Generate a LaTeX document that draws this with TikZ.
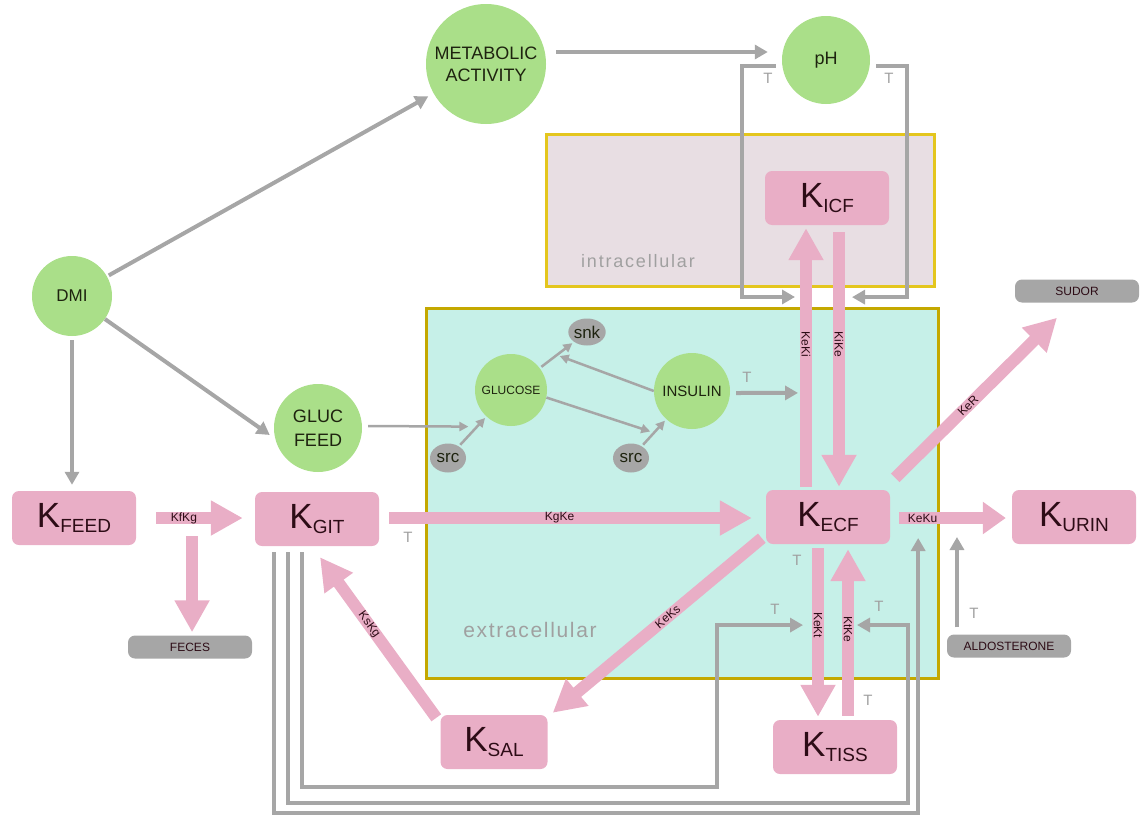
\documentclass[tikz,border=0pt]{standalone}
\usepackage{fontspec}
\setmainfont{Liberation Sans}
\usetikzlibrary{arrows.meta,calc,shapes.geometric}
\definecolor{pinkc}{RGB}{233,174,198}
\definecolor{greenc}{RGB}{170,223,137}
\definecolor{grayc}{RGB}{166,166,166}
\definecolor{tgray}{RGB}{160,160,160}
\definecolor{ktext}{RGB}{45,12,22}
\definecolor{ctext}{RGB}{30,35,15}
\definecolor{intrafill}{RGB}{232,222,227}
\definecolor{intrastroke}{RGB}{228,198,30}
\definecolor{extrafill}{RGB}{198,240,232}
\definecolor{extrastroke}{RGB}{196,168,0}
\newcommand\kname[1]{{\fontsize{35}{35}\selectfont K}\raisebox{-5pt}{\fontsize{19}{19}\selectfont #1}}
\begin{document}
\begin{tikzpicture}[x=1pt,y=-1pt,
  pbox/.style={fill=pinkc, rounded corners=7pt, minimum width=124pt, minimum height=54pt, inner sep=0pt, text=ktext},
  gbox/.style={fill=grayc, rounded corners=7pt, minimum width=124pt, minimum height=23pt, inner sep=0pt, text=ktext, font=\fontsize{12}{12}\selectfont},
  circ/.style={circle, fill=greenc, inner sep=0pt, text=ctext, align=center},
  gell/.style={ellipse, fill=grayc, minimum width=36pt, minimum height=29pt, inner sep=0pt, text=ctext, font=\fontsize{17}{17}\selectfont},
  parr/.style={draw=pinkc, line width=12pt, -{Triangle[length=32pt,width=33pt]}},
  shorthead/.style={-{Triangle[length=23pt,width=31pt]}},
  garr/.style={draw=grayc, line width=4pt, -{Triangle[length=13pt,width=14pt]}},
  gthin/.style={draw=grayc, line width=2.5pt, -{Triangle[length=9pt,width=9pt]}},
  tlab/.style={text=tgray, font=\fontsize{15}{15}\selectfont, inner sep=0pt},
  elab/.style={text=ktext, font=\fontsize{12}{12}\selectfont, inner sep=0pt}]
\useasboundingbox (0,0) rectangle (1140,819);
% compartments
\node[draw=intrastroke, fill=intrafill, line width=3pt, minimum width=388pt, minimum height=152pt, anchor=north west, inner sep=0pt] (intra) at (545,133) {};
\node[draw=extrastroke, fill=extrafill, line width=2.5pt, minimum width=512pt, minimum height=370pt, anchor=north west, inner sep=0pt] (extra) at (425,307) {};
\node[text=tgray, font=\fontsize{18}{18}\selectfont\addfontfeature{LetterSpace=10}, inner sep=0pt] (intralab) at (638,261) {intracellular};
\node[text=tgray, font=\fontsize{21}{21}\selectfont\addfontfeature{LetterSpace=8}, inner sep=0pt] (extralab) at (530,630) {extracellular};
% pink boxes
\node[pbox] (kfeed) at (74,518) {\kname{FEED}};
\node[pbox] (kgit) at (317,519) {\kname{GIT}};
\node[pbox] (kecf) at (828,517) {\kname{ECF}};
\node[pbox] (kicf) at (827,198) {\kname{ICF}};
\node[pbox] (kurin) at (1074,517) {\kname{URIN}};
\node[pbox, minimum width=107pt] (ksal) at (494,742) {\kname{SAL}};
\node[pbox] (ktiss) at (835,747) {\kname{TISS}};
% gray boxes
\node[gbox] (feces) at (190,647) {FECES};
\node[gbox] (sudor) at (1077,291) {SUDOR};
\node[gbox] (aldo) at (1009,646) {ALDOSTERONE};
% circles
\node[circ, minimum size=80pt, font=\fontsize{17}{17}\selectfont] (dmi) at (72,296) {DMI};
\node[circ, minimum size=120pt, font=\fontsize{18}{22}\selectfont] (metab) at (486,64) {METABOLIC\\ACTIVITY};
\node[circ, minimum size=88pt, font=\fontsize{18}{18}\selectfont] (ph) at (826,60) {pH};
\node[circ, minimum size=88pt, font=\fontsize{18}{24}\selectfont] (glucfeed) at (318,428) {GLUC\\FEED};
\node[circ, minimum size=72pt, font=\fontsize{12}{12}\selectfont] (glucose) at (511,390) {GLUCOSE};
\node[circ, minimum size=76pt, font=\fontsize{15}{15}\selectfont] (insulin) at (692,391) {INSULIN};
\node[gell, minimum height=27pt] (snk) at (587,332) {snk};
\node[gell] (srcA) at (448,458) {src};
\node[gell] (srcB) at (631,458) {src};
% pink flows
\draw[parr] ($(kfeed.east)+(20,0)$) -- ($(kgit.west)+(-12,-1)$) node[elab,pos=0.32]{KfKg} coordinate[pos=0.414](kfsplit);
\draw[parr] ($(kfsplit)+(0,18)$) -- ($(kfsplit |- feces.north)+(0,-3)$);
\draw[parr] ($(kgit.east)+(10,-1)$) -- ($(kecf.west)+(-14,1)$) node[elab,pos=0.47]{KgKe};
\draw[parr] ($(kecf.north)+(-22,-3)$) -- ($(kicf.south)+(-21,3)$) node[elab,pos=0.55,rotate=-90]{KeKi} coordinate[pos=0.363](kekiins) coordinate[pos=0.734](kekiph);
\draw[parr] ($(kicf.south)+(12,7)$) -- ($(kecf.north)+(11,-3)$) node[elab,pos=0.44,rotate=-90]{KiKe} coordinate[pos=0.255](kikeph);
\draw[parr] ($(kecf.north east)+(5,-12)$) -- ($(sudor.south)+(-20,15)$) node[elab,pos=0.45,rotate=45]{KeR};
\draw[parr,shorthead] ($(kecf.east)+(9,1)$) -- ($(kurin.west)+(-6,1)$) node[elab,pos=0.22]{KeKu} coordinate[pos=0.178](kekuA) coordinate[pos=0.542](kekuB);
\draw[parr] ($(kecf.south west)+(-4,-6)$) -- ($(ksal.north east)+(5,-2)$) node[elab,pos=0.45,rotate=40]{KeKs};
\draw[parr] ($(ksal.north west)+(-4,3)$) -- ($(kgit.south)+(3,11)$) node[elab,pos=0.58,rotate=-54]{KsKg};
\draw[parr] ($(kecf.south)+(-10,4)$) -- ($(ktiss.north)+(-17,-3)$) node[elab,pos=0.456,rotate=-90]{KeKt} coordinate[pos=0.456](kekt);
\draw[parr] ($(ktiss.north)+(13,-4)$) -- ($(kecf.south)+(20,5)$) node[elab,pos=0.52,rotate=-90]{KtKe} coordinate[pos=0.545](ktke);
% gray influences
\draw[garr, shorten <=2pt, shorten >=6pt] (dmi) -- (metab);
\draw[garr] (dmi.-35) -- ($(glucfeed.west)+(-4,7)$);
\draw[garr, shorten <=4pt] (dmi.south) -- ($(dmi.south |- kfeed.north)+(0,-6)$);
\draw[garr] ($(metab.east)+(10,-12)$) -- ($(ph.west)+(-14,-8)$);
\draw[gthin] ($(glucfeed.east)+(6,-2)$) -- ($(glucose.south west)+(-17,11)$);
\draw[gthin, shorten <=2pt, shorten >=2pt] (srcA) -- (glucose);
\draw[gthin, shorten <=2pt, shorten >=2pt] (glucose) -- (snk) coordinate[pos=0.5](gsnk);
\draw[gthin, shorten >=3pt] (insulin.west) -- (gsnk);
\draw[gthin, shorten <=2pt, shorten >=2pt] (srcB) -- (insulin) coordinate[pos=0.5](sins);
\draw[gthin, shorten >=4pt] (glucose.-12) -- (sins);
\draw[garr] ($(insulin.east)+(6,2)$) -- ($(kekiins)+(-8,0)$);
\draw[garr] ($(ph.west)+(-6,6)$) -| ($(kekiph)+(-64,0)$) -- ($(kekiph)+(-11,0)$);
\draw[garr] ($(ph.east)+(6,6)$) -| ($(kikeph)+(68,0)$) -- ($(kikeph)+(13,0)$);
\draw[garr] ($(kgit.south)+(-15,6)$) -- ++(0,235) -| ($(kekt)+(-101,0)$) -- ($(kekt)+(-15,0)$);
\draw[garr] ($(kgit.south)+(-29,6)$) -- ++(0,251) -| ($(ktke)+(60,0)$) -- ($(ktke)+(9,0)$);
\draw[garr] ($(kgit.south)+(-43,6)$) -- ++(0,261) -| ($(kekuA)+(0,20)$);
\draw[garr] ($(aldo.north -| kekuB)+(0,-7)$) -- ($(kekuB)+(0,19)$);
% T labels
\node[tlab] (t1) at (768,78) {T};
\node[tlab] (t2) at (889,78) {T};
\node[tlab] (t3) at (747,377) {T};
\node[tlab] (t4) at (408,537) {T};
\node[tlab] (t5) at (797,560) {T};
\node[tlab] (t6) at (775,609) {T};
\node[tlab] (t7) at (879,606) {T};
\node[tlab] (t8) at (868,700) {T};
\node[tlab] (t9) at (974,613) {T};
\end{tikzpicture}
\end{document}
